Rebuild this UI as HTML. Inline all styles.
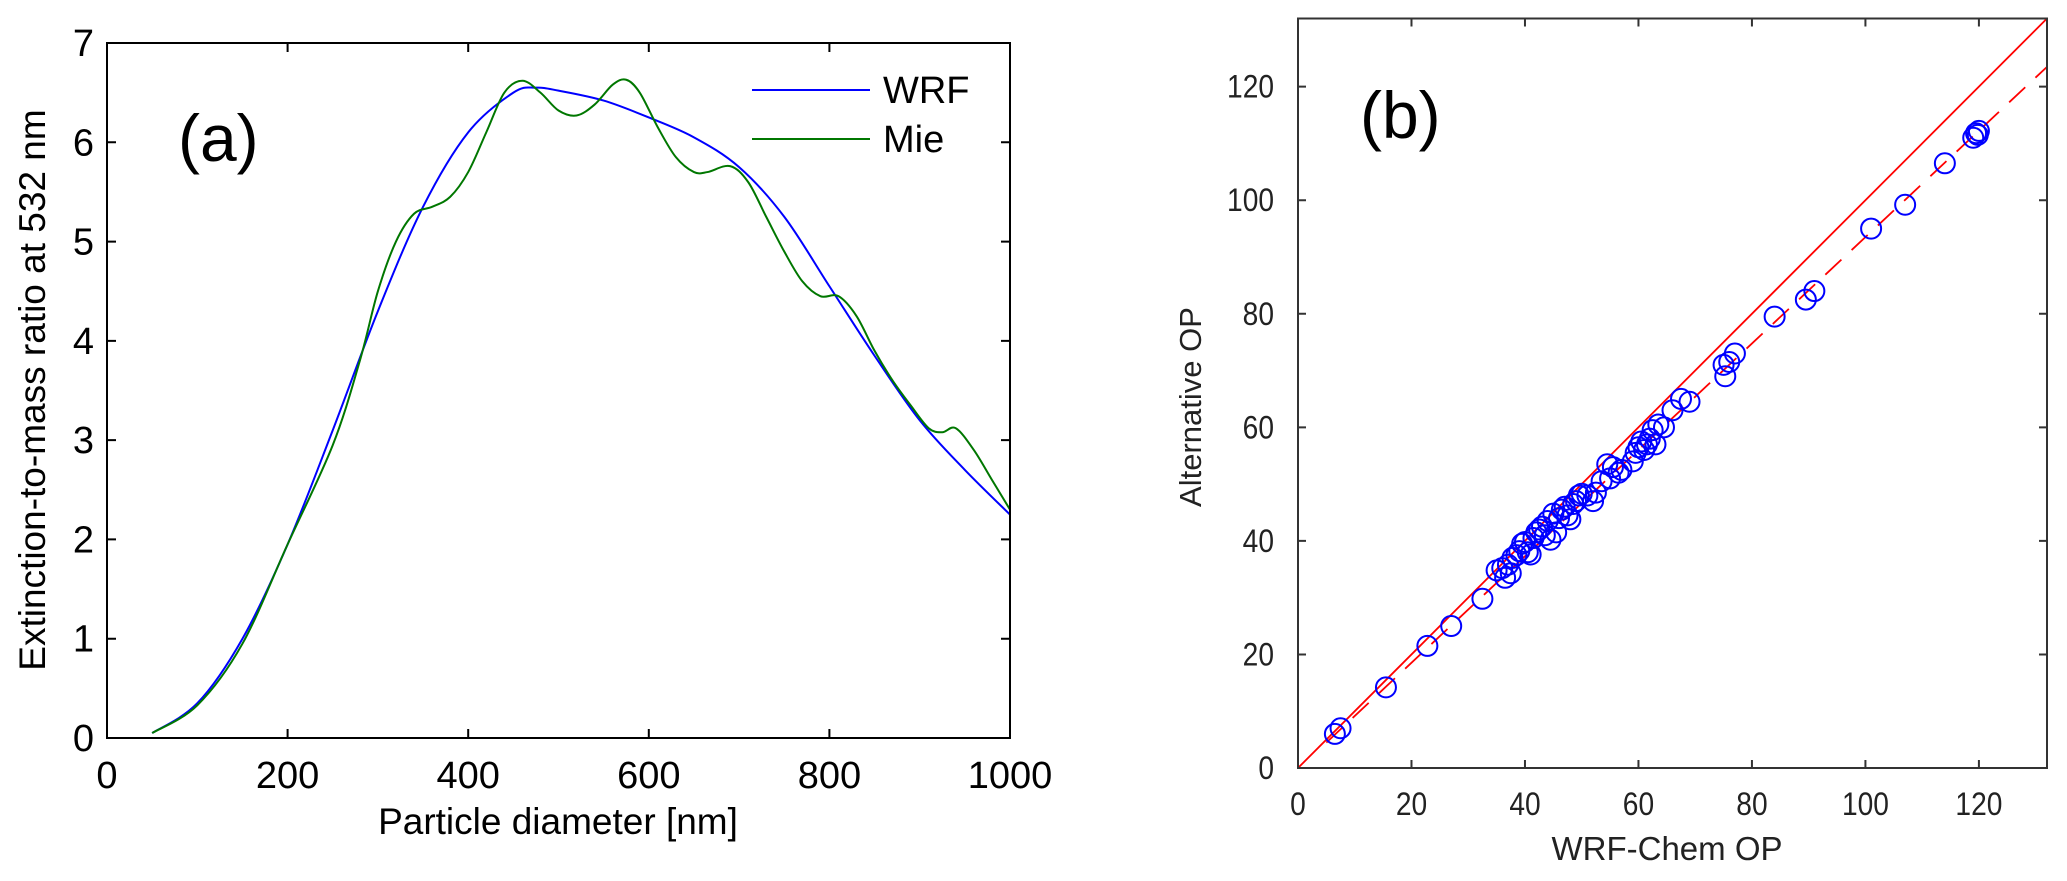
<!DOCTYPE html>
<html><head><meta charset="utf-8"><style>
html,body{margin:0;padding:0;background:#fff;}
svg{display:block;}
</style></head><body>
<svg id="fig" width="2067" height="881" xmlns="http://www.w3.org/2000/svg">
<g id="pa"></g>
<g id="pb"></g>
</svg>
<script>
// Panel (a) data
const aXTicks = [0,200,400,600,800,1000];
const aYTicks = [0,1,2,3,4,5,6,7];
const wrfX = [50,100,150,200,250,300,350,400,450,475,500,550,600,650,700,750,800,850,900,950,1000];
const wrfY = [0.05,0.35,1.0,1.95,3.1,4.3,5.35,6.1,6.5,6.55,6.52,6.42,6.25,6.05,5.75,5.25,4.55,3.85,3.2,2.7,2.25];
const mieX = [50,100,150,200,250,280,300,320,340,360,380,400,420,440,460,480,500,520,540,560,575,590,610,630,650,665,690,710,730,750,770,790,810,830,850,870,890,910,925,940,960,980,1000];
const mieY = [0.05,0.33,0.95,1.95,2.95,3.8,4.5,5.0,5.28,5.35,5.45,5.7,6.1,6.5,6.62,6.5,6.32,6.27,6.38,6.58,6.63,6.5,6.15,5.85,5.7,5.7,5.76,5.6,5.25,4.9,4.6,4.45,4.45,4.25,3.9,3.6,3.35,3.12,3.08,3.12,2.9,2.6,2.3];
// Panel (b) data
const bTicks = [0,20,40,60,80,100,120];
const opX = [6.5,7.5,15.5,22.8,27,32.5,35,36,36.5,37,37.5,37.8,38.5,39,39.5,40,40.5,41,41.5,42,42.5,43,43.5,44,44.5,45,45.5,46,46.5,47,47.5,48,48.5,49,49.5,50,51,52,52.5,53.5,54.5,55,55.5,56.5,57,59,59.5,60,60.5,61,61.5,62,62.5,63,63.5,64.5,66,67.5,69,75,75.3,76,77,84,89.5,91,101,107,114,119,119.5,120,119.8];
const opY = [6,7,14.2,21.5,25,29.8,34.8,35.2,33.5,35.8,34.3,37,37.5,38.2,39.5,39.8,38,37.6,40.5,41.5,42,42.5,41,43.5,40.2,44.8,41.5,44,45.5,46,44.5,43.8,46.5,47,48,48.3,48,47,48.5,50.5,53.5,51,53,52,52.5,54,55.5,56.5,57.5,56,57,58,59.5,57,60.5,60,63,65,64.5,71,69,71.5,73,79.5,82.5,84,95,99.2,106.5,111,111.8,112.2,111.5];
const fitSlope = 0.937, fitIntercept = -0.2;

const NS='http://www.w3.org/2000/svg';
function mk(parent,tag,attrs,text){const e=document.createElementNS(NS,tag);for(const k in attrs)e.setAttribute(k,attrs[k]);if(text!==undefined)e.textContent=text;parent.appendChild(e);return e;}
function smooth(pts){let d='M'+pts[0][0]+','+pts[0][1];for(let i=0;i<pts.length-1;i++){const p0=pts[Math.max(0,i-1)],p1=pts[i],p2=pts[i+1],p3=pts[Math.min(pts.length-1,i+2)];const c1x=p1[0]+(p2[0]-p0[0])/6,c1y=p1[1]+(p2[1]-p0[1])/6,c2x=p2[0]-(p3[0]-p1[0])/6,c2y=p2[1]-(p3[1]-p1[1])/6;d+=` C${c1x},${c1y} ${c2x},${c2y} ${p2[0]},${p2[1]}`;}return d;}

// ---- Panel A
const pa=document.getElementById('pa');
const aL=107,aR=1010,aT=43,aB=738;
const ax=v=>aL+(v-0)/(1000-0)*(aR-aL);
const ay=v=>aB-(v-0)/(7-0)*(aB-aT);
const F='"Liberation Sans", Arial, sans-serif';
aXTicks.forEach(t=>{
  const tk=mk(pa,'path',{d:`M${ax(t)},${aB}v-9M${ax(t)},${aT}v9`,stroke:'#000','stroke-width':2});
  
  const l=mk(pa,'text',{x:ax(t),y:788,'text-anchor':'middle','font-family':F,'font-size':38},String(t));
  
});
aYTicks.forEach(t=>{
  const tk=mk(pa,'path',{d:`M${aL},${ay(t)}h9M${aR},${ay(t)}h-9`,stroke:'#000','stroke-width':2});
  
  const l=mk(pa,'text',{x:94,y:ay(t)+13,'text-anchor':'end','font-family':F,'font-size':38},String(t));
  
});
const wl=mk(pa,'path',{d:smooth(wrfX.map((x,i)=>[ax(x),ay(wrfY[i])])),fill:'none',stroke:'#0000ff','stroke-width':2});

const ml=mk(pa,'path',{d:smooth(mieX.map((x,i)=>[ax(x),ay(mieY[i])])),fill:'none',stroke:'#007700','stroke-width':2});

const fa=mk(pa,'rect',{x:aL,y:aT,width:aR-aL,height:aB-aT,fill:'none',stroke:'#000','stroke-width':2});

let e;
e=mk(pa,'line',{x1:752,y1:90,x2:870,y2:90,stroke:'#0000ff','stroke-width':2});
e=mk(pa,'text',{x:883,y:103,'font-family':F,'font-size':38},'WRF');
e=mk(pa,'line',{x1:752,y1:139,x2:870,y2:139,stroke:'#007700','stroke-width':2});
e=mk(pa,'text',{x:883,y:152,'font-family':F,'font-size':38},'Mie');
e=mk(pa,'text',{x:178,y:161,'font-family':F,'font-size':66},'(a)');
e=mk(pa,'text',{x:558,y:834,'text-anchor':'middle','font-family':F,'font-size':37},'Particle diameter [nm]');
e=mk(pa,'text',{x:0,y:0,'text-anchor':'middle','font-family':F,'font-size':37,transform:'translate(45,390) rotate(-90)'},'Extinction-to-mass ratio at 532 nm');

// ---- Panel B
const pb=document.getElementById('pb');
const bL=1298,bR=2047,bT=18.5,bB=768;
const bx=v=>bL+v/132*(bR-bL);
const by=v=>bB-v/132*(bB-bT);
const FN='"Liberation Sans Narrow", "Liberation Sans", Arial, sans-serif';
bTicks.forEach(t=>{
  let tk=mk(pb,'path',{d:`M${bx(t)},${bB}v-8M${bx(t)},${bT}v8`,stroke:'#333','stroke-width':2});
  
  let l=mk(pb,'text',{x:0,y:0,'text-anchor':'middle','font-family':FN,'font-size':32,fill:'#222',transform:`translate(${bx(t)},815) scale(0.88,1)`},String(t));
  
  tk=mk(pb,'path',{d:`M${bL},${by(t)}h8M${bR},${by(t)}h-8`,stroke:'#333','stroke-width':2});
  
  l=mk(pb,'text',{x:0,y:0,'text-anchor':'end','font-family':FN,'font-size':32,fill:'#222',transform:`translate(1274,${by(t)+11}) scale(0.88,1)`},String(t));
  
});
e=mk(pb,'line',{x1:bx(0),y1:by(0),x2:bx(132),y2:by(132),stroke:'#ff0000','stroke-width':1.8});
e=mk(pb,'line',{x1:bx(5),y1:by(fitSlope*5+fitIntercept),x2:bx(132),y2:by(fitSlope*132+fitIntercept),stroke:'#ff0000','stroke-width':1.8,'stroke-dasharray':'22 14'});
opX.forEach((x,i)=>{
  const c=mk(pb,'circle',{cx:bx(x),cy:by(opY[i]),r:10,fill:'none',stroke:'#0000ff','stroke-width':2});
  
  
});
e=mk(pb,'rect',{x:bL,y:bT,width:bR-bL,height:bB-bT,fill:'none',stroke:'#333','stroke-width':2});
e=mk(pb,'text',{x:1360,y:138,'font-family':F,'font-size':66},'(b)');
e=mk(pb,'text',{x:1667,y:860,'text-anchor':'middle','font-family':FN,'font-size':33,fill:'#222'},'WRF-Chem OP');
e=mk(pb,'text',{x:0,y:0,'text-anchor':'middle','font-family':F,'font-size':31,fill:'#222',transform:'translate(1201,407) rotate(-90)'},'Alternative OP');
</script>
</body></html>
